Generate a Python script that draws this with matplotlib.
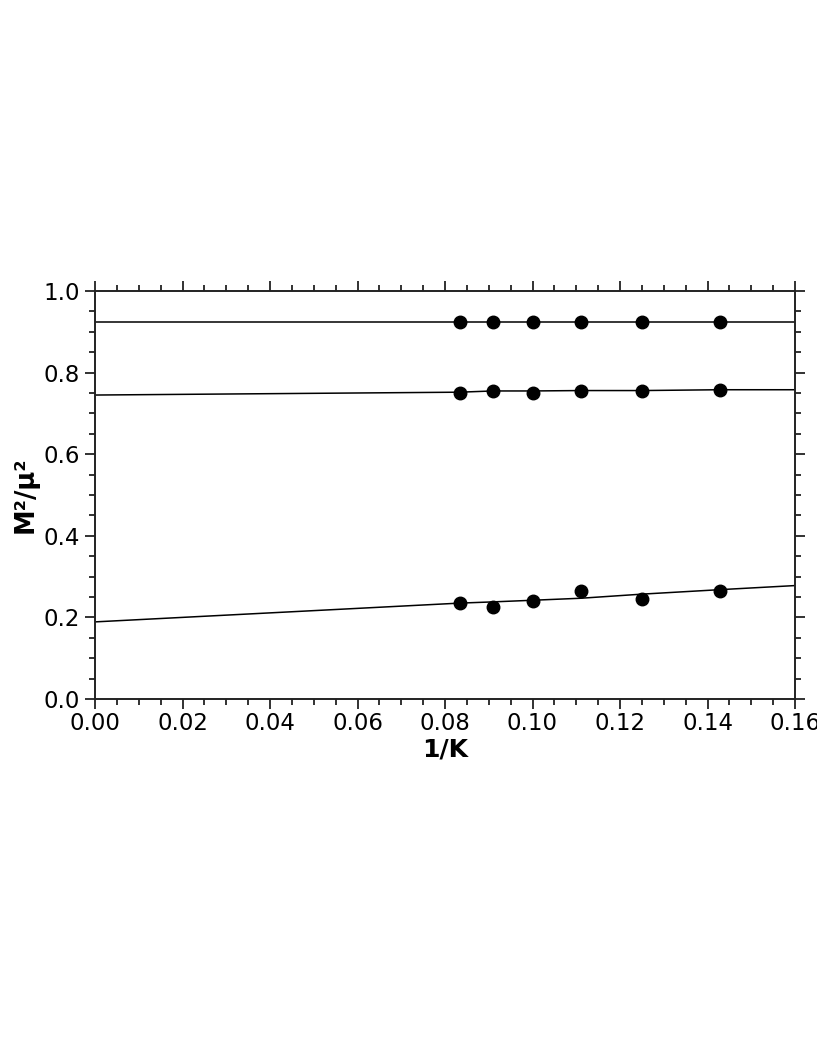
import matplotlib
matplotlib.use("Agg")
import matplotlib.pyplot as plt
from matplotlib.ticker import MultipleLocator

# measured points: 1/K for K = 12, 11, 10, 9, 8, 7
inv_k = [1/12, 1/11, 1/10, 1/9, 1/8, 1/7]
top_pts = [0.923, 0.923, 0.923, 0.923, 0.923, 0.923]
mid_pts = [0.750, 0.754, 0.751, 0.756, 0.754, 0.757]
low_pts = [0.235, 0.226, 0.240, 0.265, 0.246, 0.265]

# fitted curves, extended to 0 and 0.16
fit_x = [0.0, 1/12, 1/11, 1/10, 1/9, 1/8, 1/7, 0.16]
top_fit = [0.923, 0.923, 0.923, 0.923, 0.923, 0.923, 0.923, 0.923]
mid_fit = [0.745, 0.752, 0.755, 0.755, 0.756, 0.756, 0.758, 0.758]
low_fit = [0.189, 0.235, 0.238, 0.242, 0.247, 0.257, 0.268, 0.278]

fig = plt.figure(figsize=(8.17, 10.58), dpi=100)
ax = fig.add_axes([95/817, 1 - 699/1058, 700/817, 408/1058])

for fx, fy, px, py in [(fit_x, top_fit, inv_k, top_pts),
                       (fit_x, mid_fit, inv_k, mid_pts),
                       (fit_x, low_fit, inv_k, low_pts)]:
    ax.plot(fx, fy, color="black", lw=1.1, zorder=2)
    ax.plot(px, py, "o", color="black", ms=9, zorder=3)

ax.set_xlim(0, 0.16)
ax.set_ylim(0, 1.0)
ax.xaxis.set_major_locator(MultipleLocator(0.02))
ax.xaxis.set_minor_locator(MultipleLocator(0.005))
ax.yaxis.set_major_locator(MultipleLocator(0.2))
ax.yaxis.set_minor_locator(MultipleLocator(0.05))
ax.xaxis.set_major_formatter(plt.FormatStrFormatter("%.2f"))
ax.yaxis.set_major_formatter(plt.FormatStrFormatter("%.1f"))

ax.tick_params(which="both", direction="out", top=True, right=True,
               width=1.3, color="#222222")
ax.tick_params(which="major", length=7, labelsize=16.5)
ax.tick_params(axis="x", which="major", pad=2)
ax.tick_params(axis="y", which="major", pad=4)
ax.tick_params(which="minor", length=4.5)
for s in ax.spines.values():
    s.set_linewidth(1.4)
    s.set_color("#222222")

ax.set_xlabel("1/K", fontsize=18, fontweight="bold", labelpad=2)
ax.set_ylabel("M²/μ²", fontsize=18.5, fontweight="bold", labelpad=3)

fig.savefig("out.png", dpi=100)
